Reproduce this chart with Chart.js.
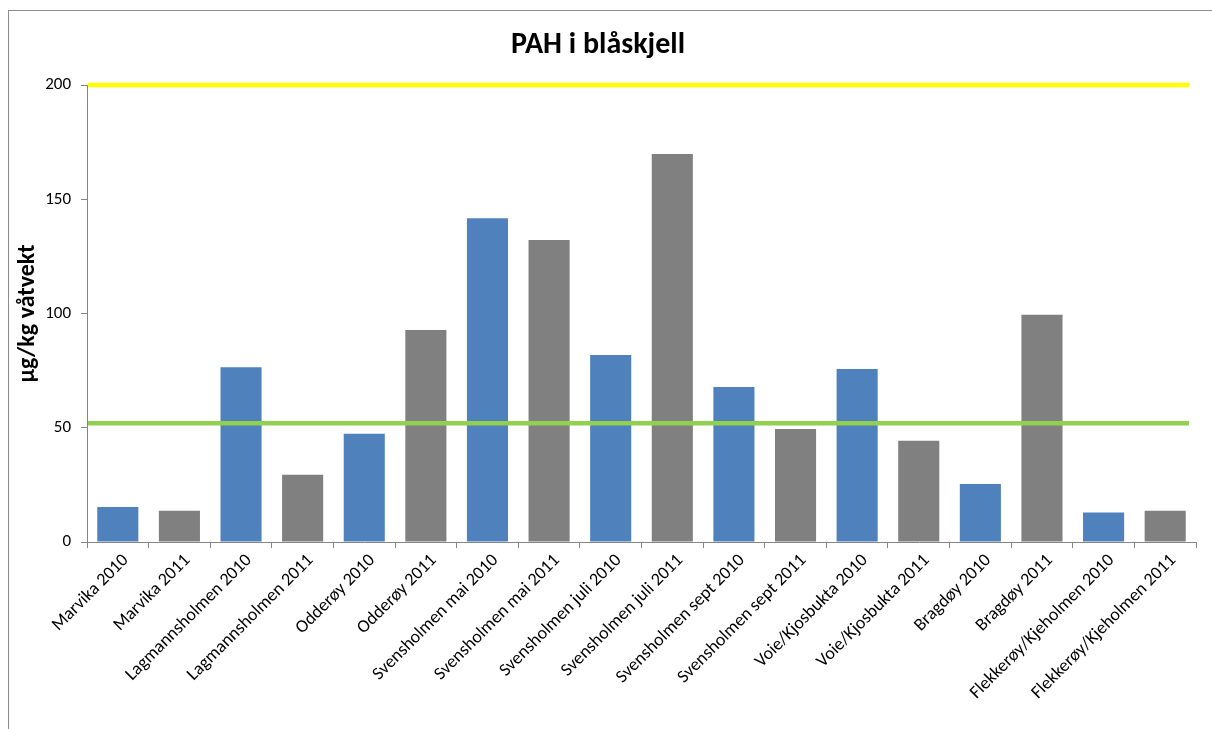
<!DOCTYPE html>
<html>
<head>
<meta charset="utf-8">
<script src="https://cdn.jsdelivr.net/npm/chart.js@4.4.1/dist/chart.umd.min.js"></script>
<style>
  body { margin: 0; background: #fff; }
  #wrap { position: relative; width: 1212px; height: 729px; overflow: hidden; }
  #frame { position: absolute; left: 8px; top: 10px; width: 1300px; height: 800px;
           border-left: 1px solid #8c8c8c; border-top: 1px solid #8c8c8c; }
  canvas { position: absolute; left: 0; top: 0; }
</style>
</head>
<body>
<div id="wrap">
  <div id="frame"></div>
  <canvas id="pahChart" width="1212" height="729"></canvas>
</div>
<script>
// Data lest av figuren
const stasjoner = [
  'Marvika 2010', 'Marvika 2011', 'Lagmannsholmen 2010', 'Lagmannsholmen 2011',
  'Odderøy 2010', 'Odderøy 2011', 'Svensholmen mai 2010', 'Svensholmen mai 2011',
  'Svensholmen juli 2010', 'Svensholmen juli 2011', 'Svensholmen sept 2010', 'Svensholmen sept 2011',
  'Voie/Kjosbukta 2010', 'Voie/Kjosbukta 2011', 'Bragdøy 2010', 'Bragdøy 2011',
  'Flekkerøy/Kjeholmen 2010', 'Flekkerøy/Kjeholmen 2011'
];
const pahVerdier = [15.3, 13.7, 76.5, 29.4, 47.4, 92.8, 141.7, 132.2, 81.8, 169.8, 67.8, 49.5, 75.7, 44.3, 25.4, 99.4, 12.9, 13.7];
const grenser = [200, 52];            // gul og grønn linje
const grenseFarger = ['#ffff00', '#92d050'];
const yTicks = [0, 50, 100, 150, 200];

const fontFam = 'Carlito, Calibri, Lato, sans-serif';

// Farge per søyle: 2010 blå, 2011 grå
const barFarger = stasjoner.map(s => s.endsWith('2010') ? '#4f81bd' : '#808080');

// Tegner de vannrette grenselinjene over søylene
const grenseLinjer = {
  id: 'grenseLinjer',
  afterDatasetsDraw(chart) {
    const { ctx, chartArea, scales } = chart;
    ctx.save();
    grenser.forEach((v, i) => {
      const y = scales.y.getPixelForValue(v);
      ctx.strokeStyle = grenseFarger[i];
      ctx.lineWidth = 4.5;
      ctx.beginPath();
      ctx.moveTo(chartArea.left + 1, y);
      ctx.lineTo(chartArea.right - 7, y);
      ctx.stroke();
    });
    ctx.restore();
  }
};

const ctx = document.getElementById('pahChart').getContext('2d');
new Chart(ctx, {
  type: 'bar',
  data: {
    labels: stasjoner,
    datasets: [{
      label: 'PAH',
      data: pahVerdier,
      backgroundColor: barFarger,
      barPercentage: 0.667,
      categoryPercentage: 1.0
    }]
  },
  options: {
    responsive: false,
    animation: false,
    layout: { padding: { left: 0, right: 16, top: 0, bottom: 0 } },
    plugins: {
      legend: { display: false },
      tooltip: { enabled: false },
      title: {
        display: true,
        text: 'PAH i blåskjell',
        color: '#000',
        font: { family: fontFam, size: 30, weight: 'bold', lineHeight: 1.2 },
        padding: { top: 27, bottom: 22 }
      }
    },
    scales: {
      x: {
        offset: true,
        grid: { offset: true, drawOnChartArea: false, drawTicks: true, tickLength: 6, color: '#868686' },
        border: { color: '#868686', width: 1 },
        ticks: {
          color: '#000',
          font: { family: fontFam, size: 18 },
          minRotation: 45,
          maxRotation: 45,
          autoSkip: false,
          padding: 2,
          labelOffset: 8
        },
        afterFit: s => { s.height = 187; }
      },
      y: {
        min: 0,
        max: 200,
        afterBuildTicks: s => { s.ticks = yTicks.map(v => ({ value: v })); },
        grid: { drawOnChartArea: false, drawTicks: true, tickLength: 6, color: '#868686' },
        border: { color: '#868686', width: 1 },
        ticks: { color: '#000', font: { family: fontFam, size: 17 }, padding: 10 },
        title: {
          display: true,
          text: 'µg/kg våtvekt',
          color: '#000',
          font: { family: fontFam, size: 24, weight: 'bold', lineHeight: 1.2 },
          padding: { top: 14, bottom: 0 }
        },
        afterFit: s => { s.width = 87; }
      }
    }
  },
  plugins: [grenseLinjer]
});
</script>
</body>
</html>
